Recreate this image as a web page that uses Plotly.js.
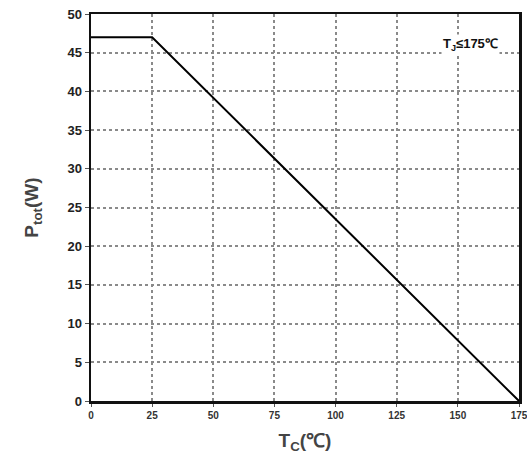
<!DOCTYPE html>
<html><head><meta charset="utf-8">
<script src="https://cdn.plot.ly/plotly-3.0.1.min.js"></script>
<style>html,body{margin:0;padding:0;background:#fff}#c{width:527px;height:464px}</style>
</head><body><div id="c"></div>
<script>
const tempC = [0, 25, 175];
const powerW = [47, 47, 0];
const xTicks = [0, 25, 50, 75, 100, 125, 150, 175];
const yTicks = [0, 5, 10, 15, 20, 25, 30, 35, 40, 45, 50];

const trace = {x: tempC, y: powerW, mode: 'lines', line: {color: '#000', width: 2}, hoverinfo: 'skip', cliponaxis: false};
const fam = "Arial, 'Liberation Sans', sans-serif";
const layout = {
  width: 527, height: 464,
  margin: {l: 91, r: 8, t: 14, b: 63},
  paper_bgcolor: '#fff', plot_bgcolor: '#fff',
  showlegend: false,
  font: {family: fam, color: '#333'},
  xaxis: {
    range: [0, 175], tickvals: xTicks, ticktext: xTicks.map(String),
    showgrid: true, gridcolor: '#8a8a8a', gridwidth: 2, griddash: '3px,3px',
    showline: true, linecolor: '#111', linewidth: 2.5, mirror: true,
    ticks: 'outside', ticklen: 3, tickcolor: '#555', tickwidth: 1,
    zeroline: false, ticklabeloverflow: 'allow',
    tickfont: {family: fam, size: 10, color: '#333', weight: 'bold'},
    title: {text: 'T<sub>C</sub>(℃)', font: {family: fam, size: 19, color: '#444', weight: 'bold'}, standoff: 14}
  },
  yaxis: {
    range: [0, 50], tickvals: yTicks, ticktext: yTicks.map(String),
    showgrid: true, gridcolor: '#8a8a8a', gridwidth: 2, griddash: '3px,3px',
    showline: true, linecolor: '#111', linewidth: 2.5, mirror: true,
    ticks: 'outside', ticklen: 4, tickcolor: '#555', tickwidth: 1,
    zeroline: false,
    tickfont: {family: fam, size: 13, color: '#222', weight: 'bold'},
    title: {text: 'P<sub>tot</sub>(W)', font: {family: fam, size: 19, color: '#444', weight: 'bold'}, standoff: 24}
  },
  annotations: [{
    x: 155, y: 46, xref: 'x', yref: 'y', showarrow: false,
    text: 'T<sub>J</sub>≤175℃', bgcolor: '#fff',
    font: {family: fam, size: 13, color: '#111', weight: 'bold'}
  }]
};
Plotly.newPlot('c', [trace], layout, {displayModeBar: false, staticPlot: true});
</script></body></html>
